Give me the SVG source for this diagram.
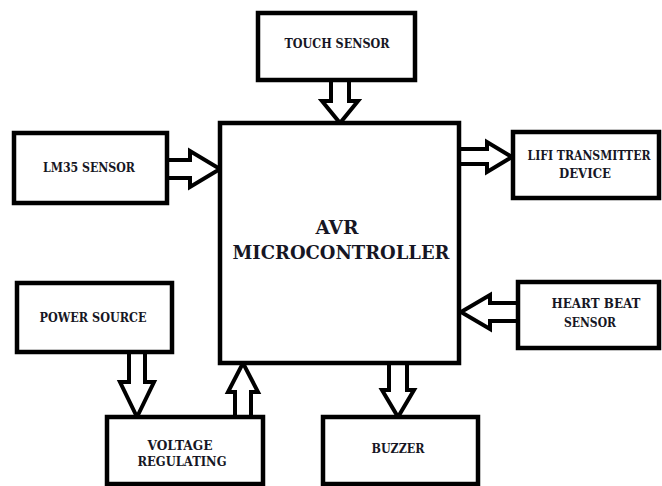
<svg xmlns="http://www.w3.org/2000/svg" width="662" height="486" viewBox="0 0 662 486">
  <style>
    .box { fill: #fff; stroke: #000; stroke-width: 4.5; }
    .arrow { fill: #fff; stroke: #000; stroke-width: 4; stroke-linejoin: miter; }
    text { font-family: 'DejaVu Serif'; font-weight: bold; font-size: 12px; fill: #161624; text-anchor: middle; }
    .big { font-size: 18.5px; }
  </style>
  <rect width="662" height="486" fill="#fff"/>

  <!-- block arrows between modules -->
  <g id="connectors">
    <path class="arrow" d="M331,80 V101 H322 L340,123 L358,101 H349 V80"/>
    <path class="arrow" d="M167,160 H190 V151 L220,169 L190,187 V178 H167"/>
    <path class="arrow" d="M459,149 H487 V142 L512,157 L487,172 V164 H459"/>
    <path class="arrow" d="M518,303 H490 V295 L461,312 L490,329 V321 H518"/>
    <path class="arrow" d="M129,352 V382 H120 L137,417 L154,382 H145 V352"/>
    <path class="arrow" d="M235,417 V392 H228 L243,363 L258,392 H251 V417"/>
    <path class="arrow" d="M389,363 V390 H382 L398,417 L414,390 H407 V363"/>
  </g>

  <g id="mcu">
    <rect class="box" x="220" y="123" width="239" height="240"/>
    <text class="big" x="337" y="234" textLength="43" lengthAdjust="spacingAndGlyphs">AVR</text>
    <text class="big" x="341" y="259" textLength="217" lengthAdjust="spacingAndGlyphs">MICROCONTROLLER</text>
  </g>

  <g id="touch">
    <rect class="box" x="258" y="13" width="157" height="67"/>
    <text x="337" y="48" textLength="105" lengthAdjust="spacingAndGlyphs">TOUCH SENSOR</text>
  </g>

  <g id="lm35">
    <rect class="box" x="14" y="133" width="153" height="70"/>
    <text x="89" y="172" textLength="92" lengthAdjust="spacingAndGlyphs">LM35 SENSOR</text>
  </g>

  <g id="lifi">
    <rect class="box" x="513" y="132" width="146" height="66"/>
    <text x="589" y="160" textLength="123" lengthAdjust="spacingAndGlyphs">LIFI TRANSMITTER</text>
    <text x="585" y="178" textLength="52" lengthAdjust="spacingAndGlyphs">DEVICE</text>
  </g>

  <g id="heartbeat">
    <rect class="box" x="518" y="282" width="141" height="66"/>
    <text x="596" y="308" textLength="89" lengthAdjust="spacingAndGlyphs">HEART BEAT</text>
    <text x="590" y="327" textLength="52" lengthAdjust="spacingAndGlyphs">SENSOR</text>
  </g>

  <g id="power">
    <rect class="box" x="17" y="283" width="155" height="69"/>
    <text x="93" y="322" textLength="107" lengthAdjust="spacingAndGlyphs">POWER SOURCE</text>
  </g>

  <g id="voltage">
    <rect class="box" x="107" y="417" width="156" height="67"/>
    <text x="180" y="450" textLength="65" lengthAdjust="spacingAndGlyphs">VOLTAGE</text>
    <text x="182" y="466" textLength="89" lengthAdjust="spacingAndGlyphs">REGULATING</text>
  </g>

  <g id="buzzer">
    <rect class="box" x="323" y="417" width="155" height="67"/>
    <text x="398" y="453" textLength="53" lengthAdjust="spacingAndGlyphs">BUZZER</text>
  </g>
</svg>
